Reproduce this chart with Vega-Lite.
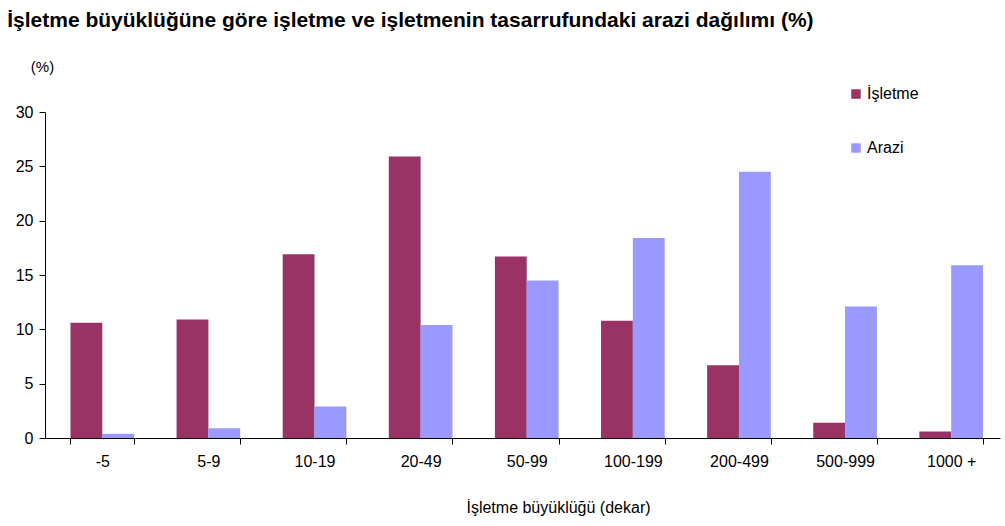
{
  "$schema": "https://vega.github.io/schema/vega-lite/v6.json",
  "width": 955,
  "height": 326,
  "autosize": {"type": "none"},
  "padding": {"left": 45, "top": 112, "right": 5, "bottom": 88},
  "background": "white",
  "title": {
    "text": "İşletme büyüklüğüne göre işletme ve işletmenin tasarrufundaki  arazi dağılımı (%)",
    "anchor": "start",
    "frame": "bounds",
    "dx": -8,
    "offset": 28,
    "font": "Liberation Sans",
    "fontSize": 21,
    "fontWeight": "bold",
    "color": "#000000"
  },
  "data": {
    "values": [
      {"size": "-5", "series": "İşletme", "value": 10.6},
      {"size": "-5", "series": "Arazi", "value": 0.4},
      {"size": "5-9", "series": "İşletme", "value": 10.9},
      {"size": "5-9", "series": "Arazi", "value": 0.9},
      {"size": "10-19", "series": "İşletme", "value": 16.9},
      {"size": "10-19", "series": "Arazi", "value": 2.9},
      {"size": "20-49", "series": "İşletme", "value": 25.9},
      {"size": "20-49", "series": "Arazi", "value": 10.4},
      {"size": "50-99", "series": "İşletme", "value": 16.7},
      {"size": "50-99", "series": "Arazi", "value": 14.5},
      {"size": "100-199", "series": "İşletme", "value": 10.8},
      {"size": "100-199", "series": "Arazi", "value": 18.4},
      {"size": "200-499", "series": "İşletme", "value": 6.7},
      {"size": "200-499", "series": "Arazi", "value": 24.5},
      {"size": "500-999", "series": "İşletme", "value": 1.4},
      {"size": "500-999", "series": "Arazi", "value": 12.1},
      {"size": "1000 +", "series": "İşletme", "value": 0.6},
      {"size": "1000 +", "series": "Arazi", "value": 15.9}
    ]
  },
  "mark": {"type": "bar"},
  "encoding": {
    "x": {
      "field": "size",
      "type": "nominal",
      "sort": null,
      "scale": {"paddingInner": 0.4, "paddingOuter": 0.2, "align": 0.6},
      "axis": {
        "title": "İşletme büyüklüğü (dekar)",
        "titleFont": "Liberation Sans",
        "titleFontSize": 16,
        "titleFontWeight": "normal",
        "titleColor": "#000000",
        "titlePadding": 30,
        "titleX": 513,
        "labelAngle": 0,
        "labelFont": "Liberation Sans",
        "labelFontSize": 16,
        "labelColor": "#000000",
        "labelPadding": 9,
        "tickBand": "extent",
        "tickSize": 6,
        "tickColor": "#000000",
        "domainColor": "#000000",
        "grid": false
      }
    },
    "xOffset": {
      "field": "series",
      "type": "nominal",
      "sort": ["İşletme", "Arazi"]
    },
    "y": {
      "field": "value",
      "type": "quantitative",
      "scale": {"domain": [0, 30]},
      "axis": {
        "title": "(%)",
        "titleAngle": 0,
        "titleX": -3,
        "titleY": -38,
        "titleAlign": "center",
        "titleFont": "Liberation Sans",
        "titleFontSize": 15,
        "titleFontWeight": "normal",
        "titleColor": "#000000",
        "values": [0, 5, 10, 15, 20, 25, 30],
        "labelFont": "Liberation Sans",
        "labelFontSize": 16,
        "labelColor": "#000000",
        "labelPadding": 6,
        "tickSize": 6,
        "tickColor": "#000000",
        "domainColor": "#000000",
        "grid": false
      }
    },
    "color": {
      "field": "series",
      "type": "nominal",
      "sort": ["İşletme", "Arazi"],
      "scale": {"domain": ["İşletme", "Arazi"], "range": ["#993366", "#9999FF"]},
      "legend": {
        "title": null,
        "orient": "none",
        "legendX": 803,
        "legendY": -26,
        "symbolType": "square",
        "symbolSize": 90,
        "symbolStrokeWidth": 0,
        "labelFont": "Liberation Sans",
        "labelFontSize": 16,
        "labelColor": "#000000",
        "labelOffset": 3,
        "rowPadding": 38
      }
    }
  },
  "config": {"view": {"stroke": null}}
}
